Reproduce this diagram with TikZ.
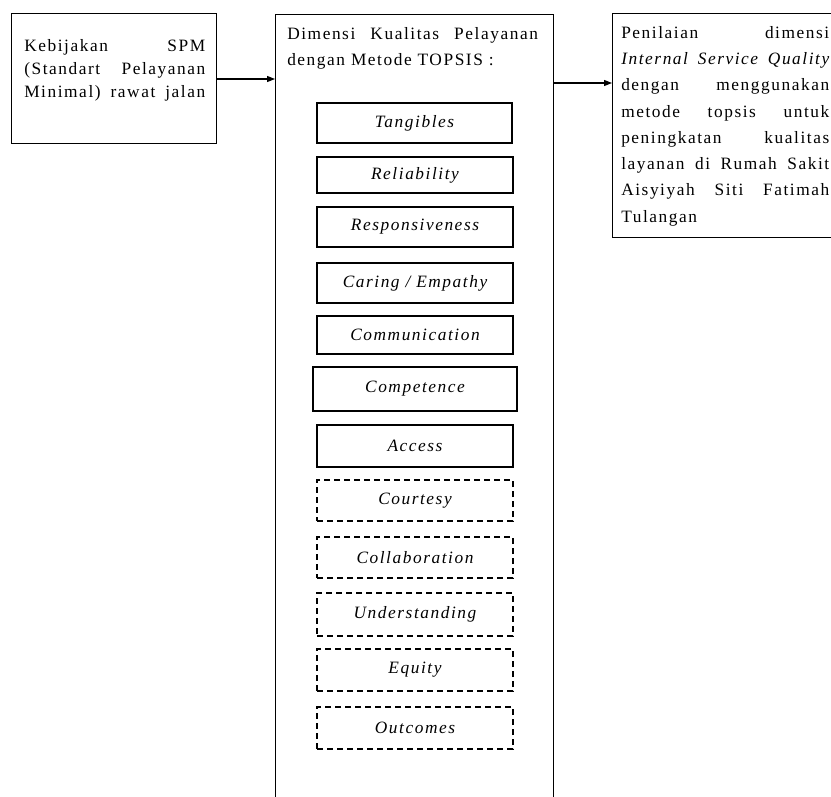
\documentclass[tikz,border=0pt]{standalone}
\usepackage{fontspec}
\setmainfont{Liberation Serif}[LetterSpace=9]
\usetikzlibrary{arrows.meta}
\newcommand\dimbx[7]{\node[#6, minimum width={(#4-#2)*0.75pt}, minimum height={(#5-#3)*0.75pt}] (#1) at ({(#2+#4)/2},{(#3+#5)/2}) {#7};}
\newcommand\jla[1]{\hbox to 135.75pt{#1}}
\newcommand\jlb[1]{\hbox to 156pt{#1}}
\begin{document}
\begin{tikzpicture}[x=0.75pt,y=-0.75pt,
  box/.style={draw, line width=0.9pt, inner sep=0pt, anchor=north west},
  dimbox/.style={draw, line width=0.9pt, inner sep=0pt, font=\fontsize{13pt}{15pt}\selectfont\itshape},
  dashbox/.style={dimbox, dash pattern=on 4.5pt off 3pt},
  txt/.style={inner sep=0pt, anchor=north west, align=left},
  arr/.style={line width=0.9pt, -{Triangle[length=6pt,width=4.5pt]}}]
\useasboundingbox (0,0) rectangle (831,796);

% main boxes
\node[box, minimum width=153.75pt, minimum height=97.5pt] (kb) at (11,13) {};
\node[box, minimum width=208.5pt, minimum height=597pt] (main) at (275,14) {};
\node[box, minimum width=174.75pt, minimum height=168pt] (rb) at (612,13) {};

% texts
\node[txt, font=\fontsize{13pt}{17.25pt}\selectfont] (kbt) at (24,39)
  {\jla{Kebijakan\hfill SPM}\\ \jla{(Standart\hfill Pelayanan}\\ \jla{Minimal)\hfill rawat\hfill jalan}};
\node[txt, font=\fontsize{13pt}{19.5pt}\selectfont] (hdr) at (287,27)
  {\hbox to 188pt{Dimensi\hfill Kualitas\hfill Pelayanan}\\ dengan Metode TOPSIS :};
\node[txt, font=\fontsize{13pt}{19.7pt}\selectfont] (rbt) at (621,26)
  {\jlb{Penilaian\hfill dimensi}\\
   \jlb{\itshape Internal\hfill Service\hfill Quality}\\
   \jlb{dengan\hfill menggunakan}\\
   \jlb{metode\hfill topsis\hfill untuk}\\
   \jlb{peningkatan\hfill kualitas}\\
   \jlb{layanan\hfill di\hfill Rumah\hfill Sakit}\\
   \jlb{Aisyiyah\hfill Siti\hfill Fatimah}\\
   Tulangan};

% dimension boxes
\dimbx{tan}{317}{103}{512}{143}{dimbox}{Tangibles}
\dimbx{rel}{317}{157}{513}{193}{dimbox}{Reliability}
\dimbx{res}{317}{207}{513}{247}{dimbox}{Responsiveness}
\dimbx{car}{317}{263}{513}{303}{dimbox}{Caring / Empathy}
\dimbx{com}{317}{316}{513}{354}{dimbox}{Communication}
\dimbx{cpt}{313}{367}{517}{411}{dimbox}{Competence}
\dimbx{acc}{317}{425}{513}{467}{dimbox}{Access}
\dimbx{cou}{317}{480}{513}{521}{dashbox}{Courtesy}
\dimbx{col}{317}{537}{513}{578}{dashbox}{Collaboration}
\dimbx{und}{317}{593}{513}{636}{dashbox}{Understanding}
\dimbx{equ}{317}{649}{513}{691}{dashbox}{Equity}
\dimbx{out}{317}{707}{513}{749}{dashbox}{Outcomes}

% connectors
\coordinate (a1) at (0,79);
\coordinate (a2) at (0,83);
\draw[arr] (kb.east |- a1) -- (main.west |- a1);
\draw[arr] (main.east |- a2) -- (rb.west |- a2);
\end{tikzpicture}
\end{document}
